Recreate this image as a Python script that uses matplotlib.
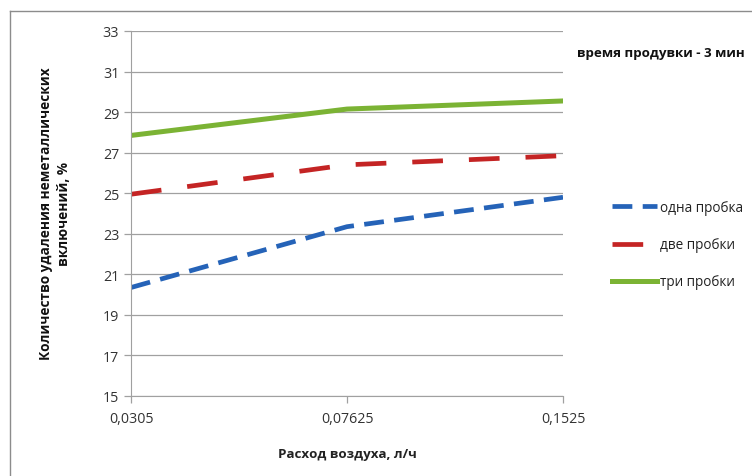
import numpy as np
import matplotlib.pyplot as plt
from matplotlib.lines import Line2D

plt.rcParams['font.family'] = ['Open Sans', 'DejaVu Sans']

categories = ['0,0305', '0,07625', '0,1525']
one_plug = [20.35, 23.35, 24.8]
two_plugs = [24.95, 26.4, 26.85]
three_plugs = [27.85, 29.15, 29.55]
yticks = [15, 17, 19, 21, 23, 25, 27, 29, 31, 33]


def main():
    fig = plt.figure(figsize=(7.52, 4.77), dpi=100)
    ax = fig.add_axes([131/752, 1 - 397/477, 432/752, 365/477])

    x = np.arange(len(categories))
    ax.plot(x, one_plug, color='#2563b8', lw=3.4, dashes=(4.2, 2.2),
            label='одна пробка')
    ax.plot(x, two_plugs, color='#c42424', lw=3.4, dashes=(6.5, 5.5),
            label='две пробки')
    ax.plot(x, three_plugs, color='#7bb334', lw=3.6, label='три пробки')

    ax.set_xlim(0, 2)
    ax.set_ylim(15, 33)
    ax.set_xticks(x)
    ax.set_xticklabels(categories)
    ax.set_yticks(yticks)
    ax.yaxis.grid(True, color='#a0a0a0', lw=0.9)
    ax.set_axisbelow(True)
    for s in ['top', 'right']:
        ax.spines[s].set_visible(False)
    ax.spines['left'].set_color('#a0a0a0')
    ax.spines['bottom'].set_color('#a0a0a0')
    ax.tick_params(colors='#a0a0a0', labelcolor='#333333', labelsize=10.3,
                   length=5, width=0.9)
    ax.tick_params(axis='x', pad=6)

    fig.text(347/752, 1 - 455/477, 'Расход воздуха, л/ч', ha='center',
             va='center', fontsize=9.6, fontweight='bold', color='#222222')
    fig.text(55/752, 1 - 214/477,
             'Количество удаления неметаллических\nвключений, %',
             ha='center', va='center', rotation=90, fontsize=9.8,
             fontweight='bold', color='#111111', linespacing=1.3)
    fig.text(577/752, 1 - 53/477, 'время продувки - 3 мин', ha='left',
             va='center', fontsize=9.6, fontweight='bold', color='#111111')

    ax.legend(loc='upper left', bbox_to_anchor=(600/752, 1 - 189/477),
              bbox_transform=fig.transFigure, frameon=False, fontsize=9.8,
              handlelength=3.3, handletextpad=0.2, labelspacing=1.62,
              labelcolor='#222222')

    # outer chart border (only left and top are visible in the crop)
    fig.add_artist(Line2D([10/752, 10/752], [0, 1 - 12/477],
                          color='#8c8c8c', lw=1, transform=fig.transFigure))
    fig.add_artist(Line2D([10/752, 1], [1 - 12/477, 1 - 12/477],
                          color='#8c8c8c', lw=1, transform=fig.transFigure))

    fig.savefig('out.png', dpi=100)


if __name__ == '__main__':
    main()
